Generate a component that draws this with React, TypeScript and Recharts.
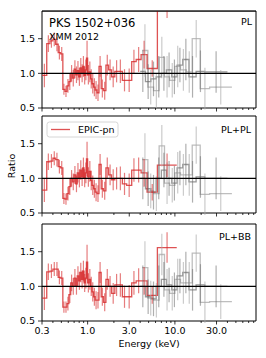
import React from "react";
import {
	ComposedChart,
	Line,
	Scatter,
	ErrorBar,
	XAxis,
	YAxis,
	ReferenceLine,
	ReferenceArea,
} from "recharts";

// EPIC-pn bins (keV edges) and ratios for the three models
const redEdges = [
	0.3, 0.34, 0.37, 0.4, 0.43, 0.46, 0.49, 0.52, 0.55, 0.58, 0.61, 0.64, 0.67,
	0.7, 0.73, 0.76, 0.79, 0.82, 0.85, 0.88, 0.91, 0.94, 0.97, 1.0, 1.04, 1.08,
	1.12, 1.17, 1.22, 1.28, 1.35, 1.43, 1.52, 1.62, 1.74, 1.88, 2.05, 2.25, 2.5,
	2.8, 3.2, 3.6, 4.1, 4.8, 6.3, 10.5,
];
const redPL = [
	0.97, 1.43, 1.47, 1.49, 1.42, 1.3, 1.28, 0.77, 0.74, 0.82, 0.88, 1.0, 0.93,
	1.06, 0.98, 1.04, 0.95, 1.08, 1.0, 1.1, 0.97, 1.05, 1.22, 0.98, 1.02, 0.92,
	0.85, 0.8, 0.76, 0.72, 1.1, 0.78, 0.75, 1.12, 1.05, 0.95, 1.03, 1.03, 0.9,
	0.9, 1.17, 1.2, 1.27, 1.07, 2.3,
];
const redPLPL = [
	0.83, 1.24, 1.25, 1.29, 1.27, 1.17, 1.15, 0.71, 0.7, 0.78, 0.88, 1.0, 0.95,
	1.05, 0.92, 1.08, 1.0, 1.12, 1.02, 1.15, 1.0, 1.08, 1.28, 1.02, 1.1, 0.97,
	0.9, 0.85, 0.8, 0.78, 1.2, 0.85, 0.82, 1.15, 1.05, 0.98, 1.0, 1.0, 0.92, 0.9,
	1.12, 1.12, 1.08, 0.8, 1.19,
];
const redPLBB = [
	0.83, 1.21, 1.22, 1.25, 1.25, 1.13, 1.12, 0.7, 0.7, 0.75, 0.88, 1.05, 1.0,
	1.12, 1.0, 1.15, 1.08, 1.2, 1.1, 1.22, 1.05, 1.12, 1.35, 1.05, 1.1, 1.0,
	0.92, 0.85, 0.8, 0.8, 1.2, 0.85, 0.77, 1.1, 1.0, 0.9, 1.02, 1.02, 0.85, 0.85,
	1.05, 1.08, 1.08, 0.87, 1.56,
];
const redErrBase = [
	0.17, 0.12, 0.1, 0.1, 0.1, 0.1, 0.1, 0.08, 0.08, 0.1, 0.12, 0.12, 0.12, 0.13,
	0.12, 0.14, 0.13, 0.14, 0.13, 0.15, 0.13, 0.15, 0.25, 0.14, 0.15, 0.14, 0.14,
	0.13, 0.13, 0.12, 0.15, 0.13, 0.13, 0.15, 0.15, 0.15, 0.16, 0.17, 0.16, 0.17,
	0.17, 0.18, 0.2, 0.12,
];
const redErrPL = [...redErrBase, 0.5];
const redErrPLPL = [...redErrBase, 0.17];
const redErrPLBB = [...redErrBase, 0.22];

// hard X-ray bins, two detectors (drawn in grey)
const grayAEdges = [4.0, 4.6, 5.3, 6.1, 7.0, 8.0, 9.2, 10.6, 12.3, 14.5, 17.5, 22, 40];
const grayAPL = [1.03, 0.88, 0.92, 0.95, 1.0, 1.05, 0.95, 1.12, 1.2, 0.95, 1.03, 1.02];
const grayAPLPL = [1.0, 0.85, 0.8, 1.0, 1.12, 1.0, 0.93, 1.15, 1.2, 0.95, 1.02, 1.0];
const grayAPLBB = [1.0, 0.85, 0.82, 1.0, 1.1, 1.02, 0.95, 1.15, 1.2, 0.95, 1.02, 1.0];
const grayAErr = [0.3, 0.25, 0.25, 0.3, 0.25, 0.25, 0.25, 0.25, 0.3, 0.3, 0.3, 0.3];

const grayBEdges = [4.2, 4.9, 5.7, 6.6, 7.6, 8.7, 10.0, 11.6, 13.5, 15.8, 19.5, 25, 45];
const grayBPL = [1.33, 0.8, 0.75, 1.23, 0.95, 0.9, 1.1, 1.05, 1.02, 1.5, 0.78, 0.8];
const grayBPLPL = [1.27, 0.82, 0.78, 1.47, 0.93, 0.9, 1.08, 1.05, 1.05, 1.48, 0.77, 0.78];
const grayBPLBB = [1.27, 0.83, 0.8, 1.46, 0.95, 0.9, 1.1, 1.05, 1.05, 1.48, 0.77, 0.78];
const grayBErr = [0.38, 0.25, 0.25, 0.3, 0.3, 0.25, 0.3, 0.3, 0.3, 0.27, 0.3, 0.25];

const xMajor = [0.3, 1, 3, 10, 30];
const xMinor = [0.4, 0.5, 0.6, 0.7, 0.8, 0.9, 2, 4, 5, 6, 7, 8, 9, 20, 40, 50, 60, 70, 80];
const yTicks = [0.5, 1.0, 1.5];

const FONT = "DejaVu Sans";
const RED = "#d62728";

function stepData(edges: number[], vals: number[]) {
	const pts = vals.map((v, i) => ({ x: edges[i], y: v }));
	pts.push({ x: edges[edges.length - 1], y: vals[vals.length - 1] });
	return pts;
}

function barData(edges: number[], vals: number[], errs: number[]) {
	return vals.map((v, i) => ({
		x: Math.sqrt(edges[i] * edges[i + 1]),
		y: v,
		err: errs[i],
	}));
}

function XTick(props: any) {
	const { x, y, payload, showLabels } = props;
	const v = payload.value;
	const major = xMajor.includes(v);
	return (
		<g>
			<line x1={x} x2={x} y1={y} y2={y + (major ? 3.5 : 2)} stroke="#000" strokeWidth={0.8} />
			{showLabels && major && (
				<text x={x} y={y + 13} textAnchor="middle" fontSize={9.5} fontFamily={FONT} fill="#000">
					{v.toFixed(1)}
				</text>
			)}
		</g>
	);
}

type Series = { edges: number[]; vals: number[]; errs: number[] };

function Panel({
	top,
	height,
	red,
	grayA,
	grayB,
	showLabels,
}: {
	top: number;
	height: number;
	red: Series;
	grayA: Series;
	grayB: Series;
	showLabels: boolean;
}) {
	const layers = [
		{ s: grayB, color: "#a8a8a8", op: 0.75, eop: 0.6, id: "b" },
		{ s: grayA, color: "#6e6e6e", op: 0.7, eop: 0.55, id: "a" },
		{ s: red, color: RED, op: 0.8, eop: 0.6, id: "r" },
	];
	return (
		<div style={{ position: "absolute", left: 0, top }}>
			<ComposedChart width={266} height={height} margin={{ top: 11, right: 10, bottom: 0, left: 0 }}>
				<XAxis
					dataKey="x"
					type="number"
					scale="log"
					domain={[0.3, 85]}
					allowDataOverflow
					ticks={[...xMajor, ...xMinor]}
					interval={0}
					tickSize={0}
					tickMargin={0}
					tickLine={false}
					axisLine={false}
					height={height - 11 - 97}
					tick={(p: any) => <XTick {...p} showLabels={showLabels} />}
				/>
				<YAxis
					dataKey="y"
					type="number"
					domain={[0.5, 1.9]}
					allowDataOverflow
					ticks={yTicks}
					interval={0}
					width={42}
					tickSize={4}
					tickMargin={3}
					axisLine={false}
					tickLine={{ stroke: "#000", strokeWidth: 0.8 }}
					tickFormatter={(v: number) => v.toFixed(1)}
					tick={{ fontSize: 9.5, fill: "#000", fontFamily: FONT }}
				/>
				{layers.map((l) => (
					<Line
						key={"l" + l.id}
						id={"line-" + l.id + top}
						data={stepData(l.s.edges, l.s.vals)}
						dataKey="y"
						type="stepAfter"
						stroke={l.color}
						strokeOpacity={l.op}
						strokeWidth={1.3}
						dot={false}
						activeDot={false}
						isAnimationActive={false}
					/>
				))}
				{layers.map((l) => (
					<Scatter
						key={"s" + l.id}
						id={"sc-" + l.id + top}
						data={barData(l.s.edges, l.s.vals, l.s.errs)}
						shape={() => <g />}
						isAnimationActive={false}
					>
						<ErrorBar
							dataKey="err"
							direction="y"
							width={0}
							stroke={l.color}
							strokeOpacity={l.eop}
							strokeWidth={1.2}
						/>
					</Scatter>
				))}
				<ReferenceLine y={1} stroke="#000" strokeWidth={1.2} />
				<ReferenceArea x1={0.3} x2={85} y1={0.5} y2={1.9} fill="none" stroke="#000" strokeWidth={1} />
			</ComposedChart>
		</div>
	);
}

export default function App() {
	return (
		<div
			style={{
				position: "absolute",
				left: 0,
				top: 0,
				width: 266,
				height: 358,
				background: "#fff",
				overflow: "hidden",
			}}
		>
			<Panel
				top={0}
				height={120}
				red={{ edges: redEdges, vals: redPL, errs: redErrPL }}
				grayA={{ edges: grayAEdges, vals: grayAPL, errs: grayAErr }}
				grayB={{ edges: grayBEdges, vals: grayBPL, errs: grayBErr }}
				showLabels={false}
			/>
			<Panel
				top={105}
				height={120}
				red={{ edges: redEdges, vals: redPLPL, errs: redErrPLPL }}
				grayA={{ edges: grayAEdges, vals: grayAPLPL, errs: grayAErr }}
				grayB={{ edges: grayBEdges, vals: grayBPLPL, errs: grayBErr }}
				showLabels={false}
			/>
			<Panel
				top={213}
				height={145}
				red={{ edges: redEdges, vals: redPLBB, errs: redErrPLBB }}
				grayA={{ edges: grayAEdges, vals: grayAPLBB, errs: grayAErr }}
				grayB={{ edges: grayBEdges, vals: grayBPLBB, errs: grayBErr }}
				showLabels={true}
			/>
			<svg
				width={266}
				height={358}
				style={{ position: "absolute", left: 0, top: 0, pointerEvents: "none" }}
				fontFamily={FONT}
			>
				{/* keep the off-scale error bar inside the top frame */}
				<rect x={0} y={0} width={266} height={10.5} fill="#fff" />
				<line x1={42} x2={256} y1={11} y2={11} stroke="#000" strokeWidth={1} />
				<text x={49} y={27} fontSize={11.5}>PKS 1502+036</text>
				<text x={49} y={39.5} fontSize={9.5}>XMM 2012</text>
				<text x={252} y={25} fontSize={9.5} textAnchor="end">PL</text>
				<text x={251} y={132.5} fontSize={9.5} textAnchor="end">PL+PL</text>
				<text x={251} y={240} fontSize={9.5} textAnchor="end">PL+BB</text>
				<text x={11} y={166} fontSize={9.5} textAnchor="middle" dominantBaseline="central" transform="rotate(-90 11 166)">
					Ratio
				</text>
				<text x={149} y={347} fontSize={9.5} textAnchor="middle">Energy (keV)</text>
				<rect x={47} y={122} width={71} height={15} rx={2.5} fill="#fff" fillOpacity={0.8} stroke="#ccc" strokeWidth={0.8} />
				<line x1={51} x2={70} y1={129.5} y2={129.5} stroke={RED} strokeOpacity={0.8} strokeWidth={1.3} />
				<text x={78} y={133} fontSize={9.5}>EPIC-pn</text>
			</svg>
		</div>
	);
}
